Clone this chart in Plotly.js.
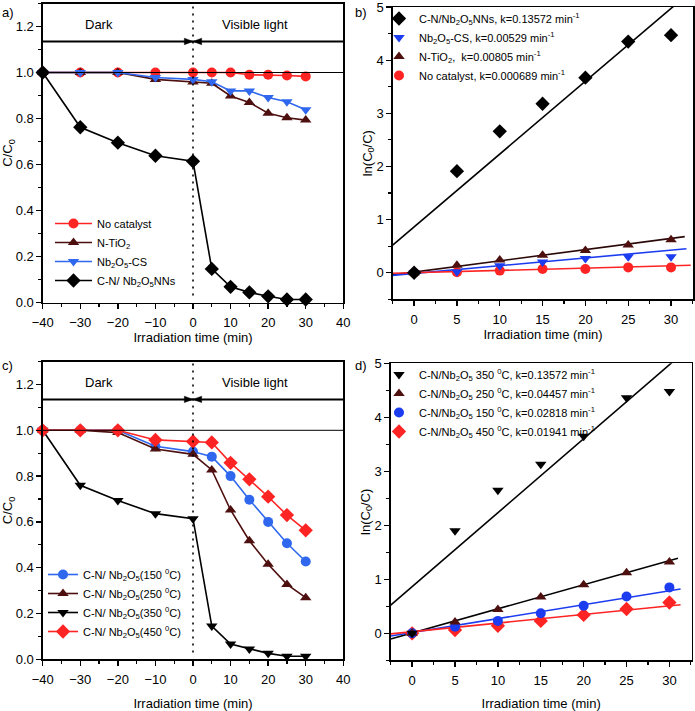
<!DOCTYPE html>
<html><head><meta charset="utf-8">
<script src="https://cdn.plot.ly/plotly-3.0.1.min.js"></script>
<style>html,body{margin:0;padding:0;background:#fff}#g{width:695px;height:711px}</style>
</head><body><div id="g"></div>
<script>
// ---------- Panel a ----------
const timeA = [-40,-30,-20,-10,0,5,10,15,20,25,30];
const aNoCat = [1.0,1.0,1.0,1.0,1.0,1.0,1.0,0.99,0.99,0.987,0.983];
const aNTiO2 = [1.0,1.0,1.0,0.97,0.959,0.953,0.898,0.87,0.823,0.803,0.793];
const aNbCS  = [1.0,1.0,1.0,0.978,0.97,0.96,0.92,0.92,0.891,0.873,0.838];
const aCN    = [1.0,0.762,0.695,0.638,0.614,0.146,0.068,0.044,0.027,0.013,0.013];
const namesA = ['No catalyst','N-TiO<sub>2</sub>','Nb<sub>2</sub>O<sub>5</sub>-CS','C-N/ Nb<sub>2</sub>O<sub>5</sub>NNs'];

// ---------- Panel b ----------
const timeB = [0,5,10,15,20,25,30];
const bCN    = [0,1.91,2.66,3.18,3.67,4.35,4.47];
const bNbCS  = [0,0.02,0.13,0.2,0.27,0.3,0.3];
const bNTiO2 = [0,0.14,0.24,0.33,0.42,0.52,0.62];
const bNoCat = [0,0.01,0.04,0.07,0.07,0.1,0.1];
const namesB = ['C-N/Nb<sub>2</sub>O<sub>5</sub>NNs, k=0.13572 min<sup>-1</sup>',
  'Nb<sub>2</sub>O<sub>5</sub>-CS, k=0.00529 min<sup>-1</sup>',
  'N-TiO<sub>2</sub>,  k=0.00805 min<sup>-1</sup>',
  'No catalyst, k=0.000689 min<sup>-1</sup>'];
// fitted lines (end points)
const fitB_CN_x = [-2.5,32.6],  fitB_CN_y = [0.52,5.33];
const fitB_Ti_x = [-2.5,31.6],  fitB_Ti_y = [-0.04,0.68];
const fitB_Nb_x = [-2.5,31.8],  fitB_Nb_y = [-0.05,0.45];
const fitB_No_x = [-2.5,32.3],  fitB_No_y = [-0.01,0.14];

// ---------- Panel c ----------
const timeC = [-40,-30,-20,-10,0,5,10,15,20,25,30];
const c150 = [1.0,1.0,1.0,0.93,0.907,0.885,0.80,0.697,0.60,0.507,0.427];
const c250 = [1.0,1.0,0.99,0.918,0.895,0.827,0.652,0.518,0.415,0.327,0.269];
const c350 = [1.0,0.76,0.693,0.636,0.614,0.145,0.067,0.045,0.026,0.013,0.013];
const c450 = [1.0,1.0,1.0,0.958,0.951,0.947,0.858,0.786,0.71,0.63,0.563];
const namesC = ['C-N/ Nb<sub>2</sub>O<sub>5</sub>(150 <sup>0</sup>C)','C-N/ Nb<sub>2</sub>O<sub>5</sub>(250 <sup>0</sup>C)',
  'C-N/ Nb<sub>2</sub>O<sub>5</sub>(350 <sup>0</sup>C)','C-N/ Nb<sub>2</sub>O<sub>5</sub>(450 <sup>0</sup>C)'];

// ---------- Panel d ----------
const timeD = [0,5,10,15,20,25,30];
const d350 = [0,1.9,2.65,3.13,3.65,4.36,4.48];
const d250 = [0,0.21,0.44,0.67,0.9,1.12,1.32];
const d150 = [0,0.12,0.23,0.37,0.51,0.68,0.85];
const d450 = [0,0.06,0.14,0.23,0.34,0.45,0.57];
const namesD = ['C-N/Nb<sub>2</sub>O<sub>5</sub> 350 <sup>0</sup>C, k=0.13572 min<sup>-1</sup>',
  'C-N/Nb<sub>2</sub>O<sub>5</sub> 250 <sup>0</sup>C, k=0.04457 min<sup>-1</sup>',
  'C-N/Nb<sub>2</sub>O<sub>5</sub> 150 <sup>0</sup>C, k=0.02818 min<sup>-1</sup>',
  'C-N/Nb<sub>2</sub>O<sub>5</sub> 450 <sup>0</sup>C, k=0.01941 min<sup>-1</sup>'];
const fitD_350_x = [-2.5,32.6], fitD_350_y = [0.52,5.33];
const fitD_250_x = [-2.5,31.0], fitD_250_y = [-0.105,1.39];
const fitD_150_x = [-2.5,31.3], fitD_150_y = [-0.05,0.82];
const fitD_450_x = [-2.5,31.3], fitD_450_y = [-0.01,0.53];

const RED='#ff2424', MAROON='#4e0f0f', BLUE='#2f68ee', DBLUE='#1c3cf0', BLK='#000000';
const FONT = 'Liberation Sans, Arial, sans-serif';

function ln(x,y,xa,ya,name,color,sym,leg,rank,size){
  return {x:x,y:y,xaxis:xa,yaxis:ya,name:name,mode:'lines+markers',type:'scatter',
    line:{color:color,width:1.6},marker:{color:color,symbol:sym,size:size||10},
    legend:leg,legendrank:rank,cliponaxis:false};
}
function pts(x,y,xa,ya,name,color,sym,leg,rank,size){
  return {x:x,y:y,xaxis:xa,yaxis:ya,name:name,mode:'markers',type:'scatter',
    marker:{color:color,symbol:sym,size:size||10},legend:leg,legendrank:rank,cliponaxis:false};
}
function fit(x,y,xa,ya,color){
  return {x:x,y:y,xaxis:xa,yaxis:ya,mode:'lines',type:'scatter',showlegend:false,
    line:{color:color,width:1.6},hoverinfo:'skip'};
}

const traces = [
  ln(timeA,aNoCat,'x','y',namesA[0],RED,'circle','legend',1),
  ln(timeA,aNTiO2,'x','y',namesA[1],MAROON,'triangle-up','legend',2),
  ln(timeA,aNbCS,'x','y',namesA[2],BLUE,'triangle-down','legend',3),
  ln(timeA,aCN,'x','y',namesA[3],BLK,'diamond','legend',4,11),

  fit(fitB_CN_x,fitB_CN_y,'x2','y2',BLK),
  fit(fitB_Ti_x,fitB_Ti_y,'x2','y2','#2a0808'),
  fit(fitB_Nb_x,fitB_Nb_y,'x2','y2',DBLUE),
  fit(fitB_No_x,fitB_No_y,'x2','y2',RED),
  pts(timeB,bNoCat,'x2','y2',namesB[3],RED,'circle','legend2',4),
  pts(timeB,bNbCS,'x2','y2',namesB[1],DBLUE,'triangle-down','legend2',2),
  pts(timeB,bNTiO2,'x2','y2',namesB[2],MAROON,'triangle-up','legend2',3),
  pts(timeB,bCN,'x2','y2',namesB[0],BLK,'diamond','legend2',1,11),

  ln(timeC,c350,'x3','y3',namesC[2],BLK,'triangle-down','legend3',3),
  ln(timeC,c150,'x3','y3',namesC[0],BLUE,'circle','legend3',1),
  ln(timeC,c250,'x3','y3',namesC[1],MAROON,'triangle-up','legend3',2),
  ln(timeC,c450,'x3','y3',namesC[3],RED,'diamond','legend3',4,11),

  fit(fitD_350_x,fitD_350_y,'x4','y4',BLK),
  fit(fitD_250_x,fitD_250_y,'x4','y4',BLK),
  fit(fitD_150_x,fitD_150_y,'x4','y4',DBLUE),
  fit(fitD_450_x,fitD_450_y,'x4','y4',RED),
  pts(timeD,d450,'x4','y4',namesD[3],RED,'diamond','legend4',4,11),
  pts(timeD,d150,'x4','y4',namesD[2],DBLUE,'circle','legend4',3),
  pts(timeD,d250,'x4','y4',namesD[1],MAROON,'triangle-up','legend4',2),
  pts(timeD,d350,'x4','y4',namesD[0],BLK,'triangle-down','legend4',1),
];

const H=711, W=695;
function py(p){return (H-p)/H;}  // pixel row -> paper
function px(p){return p/W;}

const tickFont = {family:FONT,size:13,color:'#000'};
function xax(dom, range, dtick, minor, anchor, standoff){
  return {domain:dom,range:range,dtick:dtick,tick0:0,anchor:anchor,showgrid:false,zeroline:false,
    showline:true,mirror:true,linecolor:'#000',linewidth:1.3,ticks:'outside',ticklen:5,tickwidth:1.3,
    tickcolor:'#000',tickfont:tickFont,ticklabelstandoff:3,ticklabeloverflow:'allow',
    minor:{dtick:minor,ticks:'outside',ticklen:3,tickwidth:1.2,tickcolor:'#000',showgrid:false},
    title:{text:'Irradiation time (min)',font:{family:FONT,size:13,color:'#000'},standoff:standoff}};
}
function yax(dom, range, dtick, minor, anchor, title, fmt){
  return {domain:dom,range:range,dtick:dtick,tick0:0,anchor:anchor,showgrid:false,zeroline:false,
    showline:true,mirror:true,linecolor:'#000',linewidth:1.3,ticks:'outside',ticklen:5,tickwidth:1.3,
    tickcolor:'#000',tickfont:tickFont,tickformat:fmt,ticklabeloverflow:'allow',
    minor:{dtick:minor,ticks:'outside',ticklen:3,tickwidth:1.2,tickcolor:'#000',showgrid:false},
    title:{text:title,font:{family:FONT,size:13,color:'#000'},standoff:1}};
}

const shapes=[];
const annotations=[];
[['x','y'],['x3','y3']].forEach(([xa,ya])=>{
  shapes.push({type:'line',xref:xa,yref:ya,x0:-40,x1:40,y0:1.0,y1:1.0,line:{color:'#000',width:1}});
  shapes.push({type:'line',xref:xa,yref:ya,x0:-40,x1:40,y0:1.135,y1:1.135,line:{color:'#000',width:2}});
  shapes.push({type:'line',xref:xa,yref:ya,x0:0,x1:0,y0:0.03,y1:1.3,line:{color:'#000',width:1.6,dash:'2px,5px'}});
  // arrow heads pointing at the dark/light boundary
  shapes.push({type:'path',xref:xa,yref:ya,path:'M -2.3,1.121 L 0,1.135 L -2.3,1.149 Z',fillcolor:'#000',line:{color:'#000',width:0.5}});
  shapes.push({type:'path',xref:xa,yref:ya,path:'M 2.3,1.121 L 0,1.135 L 2.3,1.149 Z',fillcolor:'#000',line:{color:'#000',width:0.5}});
  annotations.push({xref:xa,yref:ya,x:-25,y:1.21,text:'Dark',showarrow:false,font:{family:FONT,size:13,color:'#000'}});
  annotations.push({xref:xa,yref:ya,x:16.5,y:1.21,text:'Visible light',showarrow:false,font:{family:FONT,size:13,color:'#000'}});
});
[['a)',0,12],['b)',353,12],['c)',0,366],['d)',353,365]].forEach(([t,x,y])=>{
  annotations.push({xref:'paper',yref:'paper',x:px(x),y:py(y),xanchor:'left',yanchor:'middle',text:t,showarrow:false,font:{family:FONT,size:13,color:'#000'}});
});

const legFont = {family:FONT,size:11,color:'#000'};
const legSmall = {family:FONT,size:11,color:'#000'};
const layout = {
  width:W,height:H,margin:{l:0,r:0,t:0,b:0},paper_bgcolor:'#fff',plot_bgcolor:'#fff',
  font:{family:FONT,color:'#000'},
  xaxis: xax([px(42.7),px(343.3)],[-40,40],10,5,'y',2),
  yaxis: yax([py(302.5),py(3.5)],[0,1.3],0.2,0.1,'x','C/C<sub>0</sub>','.1f'),
  xaxis2: xax([px(392.7),px(693.3)],[-2.5,32.6],5,2.5,'y2',2),
  yaxis2: yax([py(299.3),py(7)],[-0.5,5.0001],1,0.5,'x2','ln(C<sub>0</sub>/C)',''),
  xaxis3: xax([px(42.7),px(343.3)],[-40,40],10,5,'y3',16),
  yaxis3: yax([py(659.3),py(361.6)],[0,1.3],0.2,0.1,'x3','C/C<sub>0</sub>','.1f'),
  xaxis4: xax([px(390.7),px(691.7)],[-2.5,32.6],5,2.5,'y4',17),
  yaxis4: yax([py(660.3),py(363.3)],[-0.5,5.0001],1,0.5,'x4','ln(C<sub>0</sub>/C)',''),
  legend: {x:px(50),y:py(209),xanchor:'left',yanchor:'top',bgcolor:'rgba(0,0,0,0)',font:legFont,itemwidth:37,tracegroupgap:0},
  legend2:{x:px(379),y:py(4),xanchor:'left',yanchor:'top',bgcolor:'rgba(0,0,0,0)',font:legSmall,itemwidth:30,tracegroupgap:0},
  legend3:{x:px(43),y:py(560),xanchor:'left',yanchor:'top',bgcolor:'rgba(0,0,0,0)',font:legFont,itemwidth:30,tracegroupgap:0},
  legend4:{x:px(379),y:py(360),xanchor:'left',yanchor:'top',bgcolor:'rgba(0,0,0,0)',font:legSmall,itemwidth:30,tracegroupgap:0},
  shapes:shapes,annotations:annotations,showlegend:true
};
Plotly.newPlot('g',traces,layout,{displayModeBar:false,staticPlot:true});
</script></body></html>
